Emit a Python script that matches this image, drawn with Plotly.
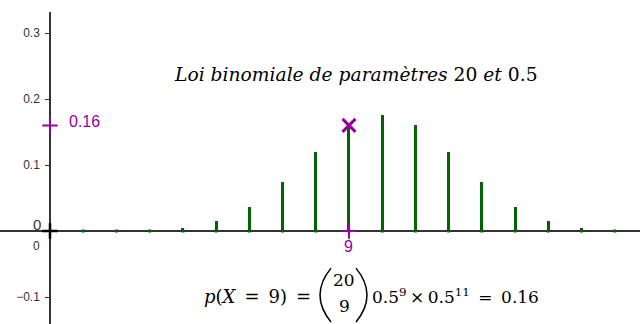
import plotly.graph_objects as go

# Data
k_values = list(range(21))
probabilities = [0.000001, 0.00002, 0.0002, 0.0011, 0.0046, 0.0148, 0.037, 0.0739,
                 0.1201, 0.1602, 0.1762, 0.1602, 0.1201, 0.0739, 0.037, 0.0148,
                 0.0046, 0.0011, 0.0002, 0.00002, 0.000001]
y_tickvals = [-0.1, 0.1, 0.2, 0.3]
y_ticktext = ["\u22120.1", "0.1", "0.2", "0.3"]
sel_k = 9
sel_p = 0.16

GREEN = "#006400"
MAG = "#990099"
W, H = 640, 324

def px(xp):
    return (xp - 50) / 33.22

def py(yp):
    return (231 - yp) / 660.0

def pxp(xp):
    return xp / W

def pyp(yp):
    return 1 - yp / H

fig = go.Figure()
fig.add_trace(go.Bar(x=k_values, y=probabilities, width=0.09,
                     marker=dict(color=GREEN, line=dict(width=0)), hoverinfo="skip"))
fig.add_trace(go.Scatter(x=k_values[1:], y=[0] * 20, mode="markers",
                         marker=dict(color=GREEN, size=3, symbol="square"), hoverinfo="skip"))
fig.add_trace(go.Scatter(x=[0], y=[0], mode="markers",
                         marker=dict(symbol="cross-thin", size=11, line=dict(color="black", width=2.5))))
fig.add_trace(go.Scatter(x=[sel_k], y=[sel_p], mode="markers",
                         marker=dict(symbol="x-thin", size=13, line=dict(color=MAG, width=3))))
fig.add_trace(go.Scatter(x=[0, sel_k], y=[sel_p, 0], mode="markers",
                         marker=dict(symbol="cross-thin", size=11, line=dict(color=MAG, width=2))))

sans = "Liberation Sans, Arial"
serif = "DejaVu Serif, serif"
ann = []
ann.append(dict(x=px(67), y=sel_p, xref="x", yref="y", text="%.2f" % sel_p, showarrow=False,
                xanchor="left", yanchor="middle", yshift=4,
                font=dict(family=sans, size=16, color=MAG)))
ann.append(dict(x=sel_k, y=py(246), xref="x", yref="y", text=str(sel_k), showarrow=False,
                xanchor="center", yanchor="middle",
                font=dict(family=sans, size=16, color=MAG)))
ann.append(dict(x=px(43), y=py(224), xref="x", yref="y", text="0", showarrow=False,
                xanchor="right", yanchor="middle",
                font=dict(family=sans, size=15, color="#333")))
ann.append(dict(x=px(42), y=py(246), xref="x", yref="y", text="0", showarrow=False,
                xanchor="right", yanchor="middle",
                font=dict(family=sans, size=12, color="#333")))
ann.append(dict(x=px(356), y=py(74), xref="x", yref="y",
                text="<i>Loi binomiale de paramètres</i> 20 <i>et</i> 0.5", showarrow=False,
                xanchor="center", yanchor="middle", font=dict(family=serif, size=18.7, color="black")))
ann.append(dict(x=px(313), y=py(296), xref="x", yref="y",
                text="<i>p</i>(<i>X</i>\u2002=\u20029)\u2002=", showarrow=False,
                xanchor="right", yanchor="middle", font=dict(family=serif, size=18, color="black")))
ann.append(dict(x=px(344), y=py(280), xref="x", yref="y", text="20", showarrow=False,
                xanchor="center", yanchor="middle", font=dict(family=serif, size=17, color="black")))
ann.append(dict(x=px(344), y=py(306), xref="x", yref="y", text="9", showarrow=False,
                xanchor="center", yanchor="middle", font=dict(family=serif, size=17, color="black")))
ann.append(dict(x=px(370), y=py(296), xref="x", yref="y",
                text="0.5<sup>9</sup>\u2009×\u20090.5<sup>11</sup>\u2002=\u20020.16", showarrow=False,
                xanchor="left", yanchor="middle", font=dict(family=serif, size=17, color="black")))

# thin curved parentheses of the binomial coefficient (paper coords)
def paren(x_top, x_mid, yt, yb):
    ym = (yt + yb) / 2
    return ("M %f,%f Q %f,%f %f,%f" % (pxp(x_top), pyp(yt), pxp(x_mid) * 2 - pxp(x_top), pyp(ym),
                                       pxp(x_top), pyp(yb)))

shapes = [
    dict(type="path", xref="paper", yref="paper", path=paren(331, 320, 266, 322),
         line=dict(color="black", width=1.5)),
    dict(type="path", xref="paper", yref="paper", path=paren(356, 367, 266, 322),
         line=dict(color="black", width=1.5)),
]

fig.update_layout(
    width=W, height=H, margin=dict(l=0, r=0, t=12, b=0),
    paper_bgcolor="white", plot_bgcolor="white", showlegend=False,
    annotations=ann, shapes=shapes, bargap=0,
    xaxis=dict(range=[-50 / 33.22, 590 / 33.22], showgrid=False, zeroline=False,
               showticklabels=False, showline=False, fixedrange=True, layer="below traces"),
    yaxis=dict(range=[-93 / 660.0, 219 / 660.0], showgrid=False, zeroline=True,
               zerolinecolor="#333", zerolinewidth=1.5,
               anchor="free", position=50 / 640, side="left",
               showline=True, linecolor="#333", linewidth=1.5,
               ticks="outside", ticklen=4, tickcolor="#333", tickwidth=1,
               ticklabelstandoff=3, layer="below traces",
               tickvals=y_tickvals, ticktext=y_ticktext,
               tickfont=dict(family=sans, size=12, color="#333")),
)
fig.write_html("out.html", post_script="document.body.style.margin='0';",
               config={"displayModeBar": False})
